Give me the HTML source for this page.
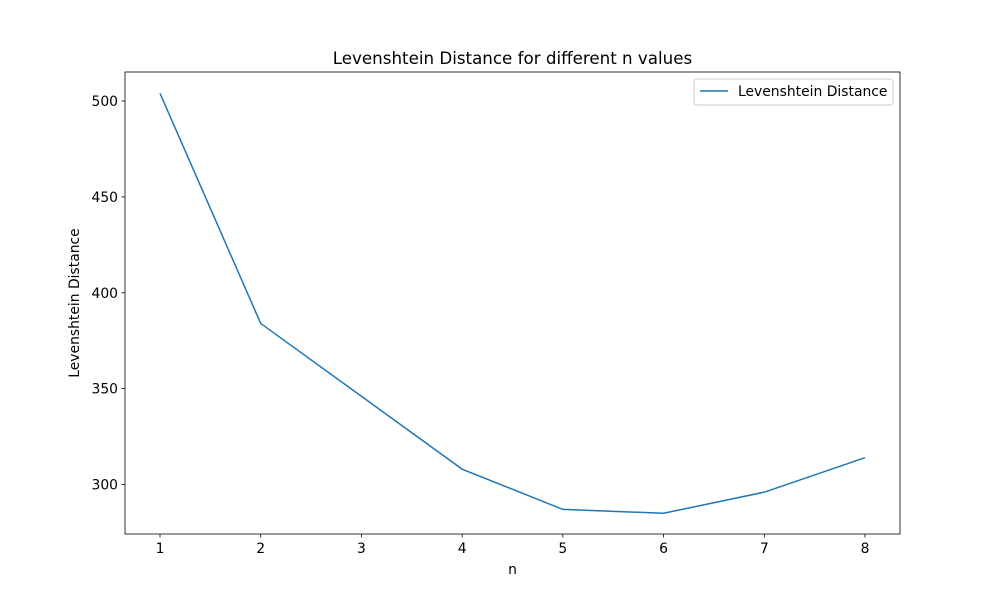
<!DOCTYPE html>
<html><head><meta charset="utf-8"><style>
body{margin:0;background:#fff;}
svg text{font-family:"DejaVu Sans","Liberation Sans",sans-serif;fill:#000;}
</style></head><body>
<svg id="chart" width="1000" height="600" xmlns="http://www.w3.org/2000/svg">
<rect width="1000" height="600" fill="#fff"/>
<g id="plot"></g>
</svg>
<script>
const categories=[1,2,3,4,5,6,7,8];
const seriesValues=[504,384,346,308,287,285,296,314];
const yTicks=[300,350,400,450,500];
const L=125,R=900,T=72,B=534;
function x(v){return 160+(v-1)*(865-160)/7;}
function y(v){return 101+(500-v)*(484.5-101)/200;}
const NS="http://www.w3.org/2000/svg";
const g=document.getElementById('plot');
function mk(t,a,txt){const e=document.createElementNS(NS,t);for(const k in a)e.setAttribute(k,a[k]);if(txt!==undefined)e.textContent=txt;g.appendChild(e);return e;}
categories.forEach(c=>{
 const t=mk('line',{x1:x(c),x2:x(c),y1:B,y2:B+3.5,stroke:'#000','stroke-width':0.8});
 
 
 const l=mk('text',{x:x(c),y:B+19,'text-anchor':'middle','font-size':13.9},c);
 
 
});
yTicks.forEach(v=>{
 const t=mk('line',{x1:L-3.5,x2:L,y1:y(v),y2:y(v),stroke:'#000','stroke-width':0.8});
 
 
 const l=mk('text',{x:L-7,y:y(v)+5,'text-anchor':'end','font-size':13.9},v);
 
 
});
const p=mk('polyline',{points:categories.map((c,i)=>x(c)+','+y(seriesValues[i])).join(' '),fill:'none',stroke:'#1f77b4','stroke-width':1.5});


const fr=mk('rect',{x:L,y:T,width:R-L,height:B-T,fill:'none',stroke:'#000','stroke-width':0.8});


const ti=mk('text',{x:512.5,y:64,'text-anchor':'middle','font-size':16.7},'Levenshtein Distance for different n values');


const xt=mk('text',{x:512.5,y:574,'text-anchor':'middle','font-size':13.9},'n');


const yt=mk('text',{x:79,y:303,'text-anchor':'middle','font-size':13.9,transform:'rotate(-90 79 303)'},'Levenshtein Distance');


const lg=mk('rect',{x:694,y:79,width:199,height:26,fill:'#fff',stroke:'#ccc','stroke-width':1,rx:3});


const ll=mk('line',{x1:700,x2:728,y1:91,y2:91,stroke:'#1f77b4','stroke-width':1.5});


const lt=mk('text',{x:738,y:96,'font-size':13.9},'Levenshtein Distance');


</script>
</body></html>
